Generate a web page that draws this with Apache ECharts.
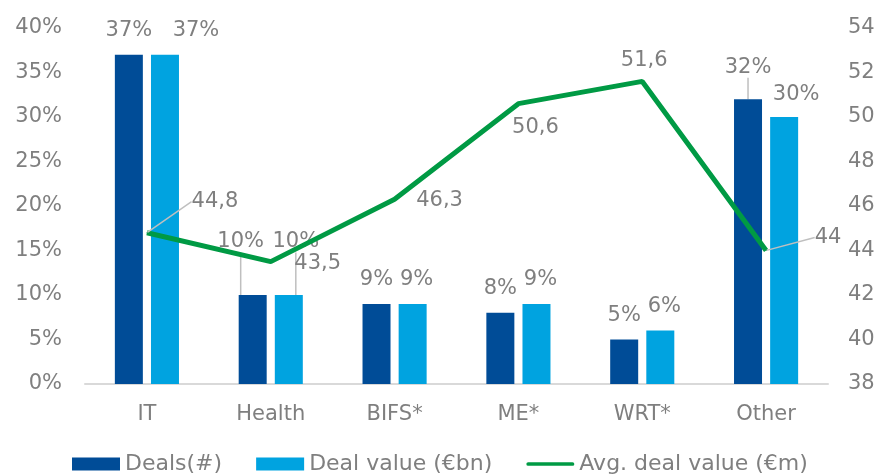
<!DOCTYPE html>
<html>
<head>
<meta charset="utf-8">
<script src="https://cdn.jsdelivr.net/npm/echarts@6/dist/echarts.min.js"></script>
<style>
  html, body { margin: 0; padding: 0; background: #fff; }
  #chart { width: 881px; height: 476px; }
</style>
</head>
<body>
<div id="chart"></div>
<script>
const categories = ['IT', 'Health', 'BIFS*', 'ME*', 'WRT*', 'Other']
const deals = [37, 10, 9, 8, 5, 32]          // % of deals
const dealValue = [37, 10, 9, 9, 6, 30]      // % of deal value
const avgDealValue = [44.8, 43.5, 46.3, 50.6, 51.6, 44]  // €m

const FONT = 'DejaVu Sans'
const GRAY = '#7f7f7f'
const LEADER = '#bfbfbf'

// label centre relative to its anchor (bar top centre / line point), per series
const labelPos = [
  [[0, -24], [-12, -53], [0, -24], [0, -24], [0, -24], [0, -32]],
  [[31, -24], [7, -53], [4, -24], [4, -24], [4, -24], [12, -22]],
  [[68, -31], [47, 2], [45, 1], [17, 24], [2, -21], [62, -13]]
]
// which labels get a leader line
const leader = { '0-1': 1, '0-5': 1, '1-1': 1, '2-0': 1, '2-5': 1 }

const chart = echarts.init(document.getElementById('chart'))

const withLeader = (arr, s) => arr.map((v, i) => leader[s + '-' + i]
  ? { value: v, labelLine: { show: true, lineStyle: { color: LEADER, width: 1.5 } } }
  : v)

const labelFont = { color: GRAY, fontFamily: FONT, fontSize: 21 }

chart.setOption({
  animation: false,
  textStyle: { fontFamily: FONT },
  grid: { left: 85, right: 53, top: 28, bottom: 92 },
  legend: {
    left: 72,
    top: 453,
    padding: 0,
    itemWidth: 48,
    itemHeight: 13,
    itemGap: 34,
    textStyle: { color: GRAY, fontFamily: FONT, fontSize: 22 },
    data: [
      { name: 'Deals(#)', icon: 'rect' },
      { name: 'Deal value (€bn)', icon: 'rect' },
      { name: 'Avg. deal value (€m)', icon: 'path://M2,0 L50,0 A2,2 0 0 1 50,4 L2,4 A2,2 0 0 1 2,0 Z' }
    ]
  },
  xAxis: {
    type: 'category',
    data: categories,
    axisLine: { lineStyle: { color: '#d9d9d9', width: 2 } },
    axisTick: { show: false },
    axisLabel: { ...labelFont, margin: 20 }
  },
  yAxis: [
    {
      type: 'value',
      min: 0,
      max: 40,
      interval: 5,
      splitLine: { show: false },
      axisLabel: { ...labelFont, margin: 23, formatter: '{value}%' }
    },
    {
      type: 'value',
      min: 38,
      max: 54,
      interval: 2,
      splitLine: { show: false },
      axisLabel: { ...labelFont, margin: 20 }
    }
  ],
  series: [
    {
      name: 'Deals(#)',
      type: 'bar',
      barWidth: 28,
      barGap: '29%',
      itemStyle: { color: '#004c97' },
      label: { show: true, position: 'top', ...labelFont, formatter: '{c}%' },
      data: withLeader(deals, 0)
    },
    {
      name: 'Deal value (€bn)',
      type: 'bar',
      barWidth: 28,
      itemStyle: { color: '#00a3e0' },
      label: { show: true, position: 'top', ...labelFont, formatter: '{c}%' },
      data: withLeader(dealValue, 1)
    },
    {
      name: 'Avg. deal value (€m)',
      type: 'line',
      yAxisIndex: 1,
      symbol: 'circle',
      symbolSize: 1,
      lineStyle: { color: '#009a44', width: 5 },
      itemStyle: { color: '#009a44' },
      label: {
        show: true,
        position: 'top',
        ...labelFont,
        formatter: p => String(p.value).replace('.', ',')
      },
      data: withLeader(avgDealValue, 2)
    }
  ],
  labelLayout: params => {
    const p = labelPos[params.seriesIndex] && labelPos[params.seriesIndex][params.dataIndex]
    if (!p) return {}
    const r = params.rect
    const ax = r.x + r.width / 2
    const ay = params.seriesIndex < 2 ? r.y : r.y + r.height / 2
    return { x: ax + p[0], y: ay + p[1], align: 'center', verticalAlign: 'middle' }
  }
})
</script>
</body>
</html>
